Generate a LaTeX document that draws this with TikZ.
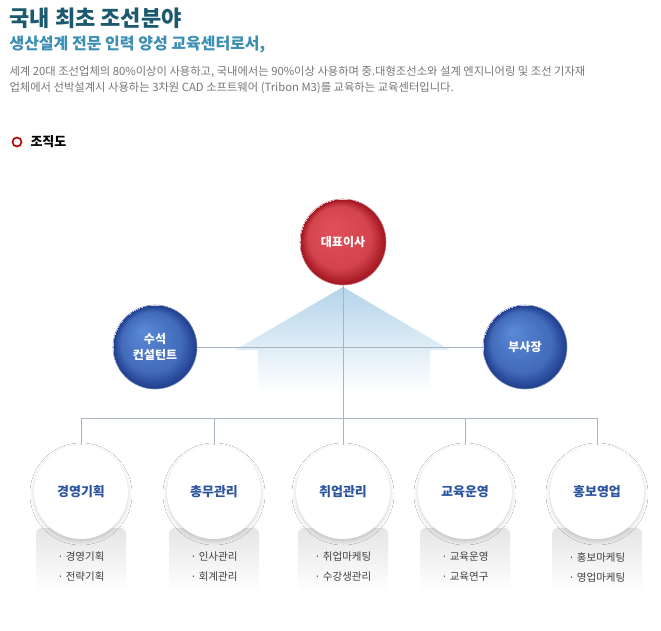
\documentclass[tikz,border=0pt]{standalone}
\usepackage{fontspec}
\setmainfont{Noto Sans CJK KR}
\usetikzlibrary{shadows.blur}
\definecolor{ttl}{HTML}{1B5A6E}
\definecolor{sub}{HTML}{3C8FB3}
\definecolor{bodyg}{HTML}{777777}
\definecolor{ln}{HTML}{A8B4C4}
\definecolor{bluet}{HTML}{2C55A0}
\definecolor{redin}{HTML}{E0505A}
\definecolor{redout}{HTML}{A0141E}
\definecolor{bluin}{HTML}{5A8AD8}
\definecolor{bluout}{HTML}{1E3C8C}
\definecolor{house}{HTML}{B4D4EA}
\pgfdeclareradialshading{redsh}{\pgfpoint{-8bp}{10bp}}{color(0bp)=(redin); color(18bp)=(redin!80!redout); color(25bp)=(redout)}
\pgfdeclareradialshading{blush}{\pgfpoint{-8bp}{10bp}}{color(0bp)=(bluin); color(18bp)=(bluin!60!bluout); color(25bp)=(bluout)}
\tikzset{
 red ball/.style={circle,minimum size=86pt,inner sep=0pt,shading=redsh,draw=redout!60,line width=0.6pt,text=white,font=\fontsize{12}{15}\selectfont\bfseries},
 blue ball/.style={circle,minimum size=84pt,inner sep=0pt,shading=blush,draw=bluout!60,line width=0.6pt,text=white,font=\fontsize{12}{16}\selectfont\bfseries,align=center},
 dept/.style={circle,minimum size=94pt,inner sep=0pt,fill=white,blur shadow={shadow blur steps=12,shadow blur radius=4pt,shadow xshift=0pt,shadow yshift=-2pt,shadow opacity=18},text=bluet,font=\fontsize{13}{15}\selectfont\bfseries},
 itembox/.style={rounded corners=5pt,top color=black!10,bottom color=white,minimum width=90pt,minimum height=64pt},
 item/.style={font=\fontsize{10.5}{20}\selectfont,text=black!75,align=left},
 conn/.style={draw=ln,line width=0.8pt}
}
\begin{document}
\begin{tikzpicture}[x=1pt,y=-1pt]
\useasboundingbox (0,0) rectangle (661,630);
\fill[white] (0,0) rectangle (661,630);
\node[anchor=west,text=ttl,font=\fontsize{22}{24}\selectfont\bfseries] (t1) at (6,18) {국내 최초 조선분야};
\node[anchor=west,text=sub,font=\fontsize{16}{18}\selectfont\bfseries] (t2) at (6,45) {생산설계 전문 인력 양성 교육센터로서,};
\node[anchor=west,text=bodyg,font=\fontsize{11.3}{13}\selectfont] (t3) at (6,72) {세계 20대 조선업체의 80\%이상이 사용하고, 국내에서는 90\%이상 사용하며 중.대형조선소와 설계 엔지니어링 및 조선 기자재};
\node[anchor=west,text=bodyg,font=\fontsize{11.3}{13}\selectfont] (t4) at (6,88) {업체에서 선박설계시 사용하는 3차원 CAD 소프트웨어 (Tribon M3)를 교육하는 교육센터입니다.};
\draw[red!70!black,line width=1.6pt] (17,142) circle (4.5);
\node[anchor=west,font=\fontsize{13}{15}\selectfont\bfseries] (t5) at (27,142) {조직도};
\coordinate (hl) at (81,418); \coordinate (hr) at (597,418); \coordinate (hc) at (343,418);
\draw[conn] (hl) -- (hr);
\shade[top color=house,bottom color=white] (343,287) -- (450,350) -- (430,350) -- (430,392) -- (258,392) -- (258,350) -- (235,350) -- cycle;
\node[blue ball] (l) at (155,347) {수석\\컨설턴트};
\node[blue ball] (r) at (525,347) {부사장};
\draw[conn] (l) -- (r);
\node[red ball] (top) at (343,242) {대표이사};
\draw[conn] (top) -- (hc);
\foreach \x/\n/\a/\b [count=\i] in {81/경영기획/경영기획/전략기획,214/총무관리/인사관리/회계관리,343/취업관리/취업마케팅/수강생관리,465/교육운영/교육운영/교육연구,597/홍보영업/홍보마케팅/영업마케팅}{
 \node[itembox] (b\i) at (\x,560) {};
 \node[dept] (d\i) at (\x,492) {\n};
 \draw[conn] (\x,418) -- (d\i.north);
 \node[item] (i\i) at (\x,567) {·\ \a\\·\ \b};
}
\end{tikzpicture}
\end{document}
